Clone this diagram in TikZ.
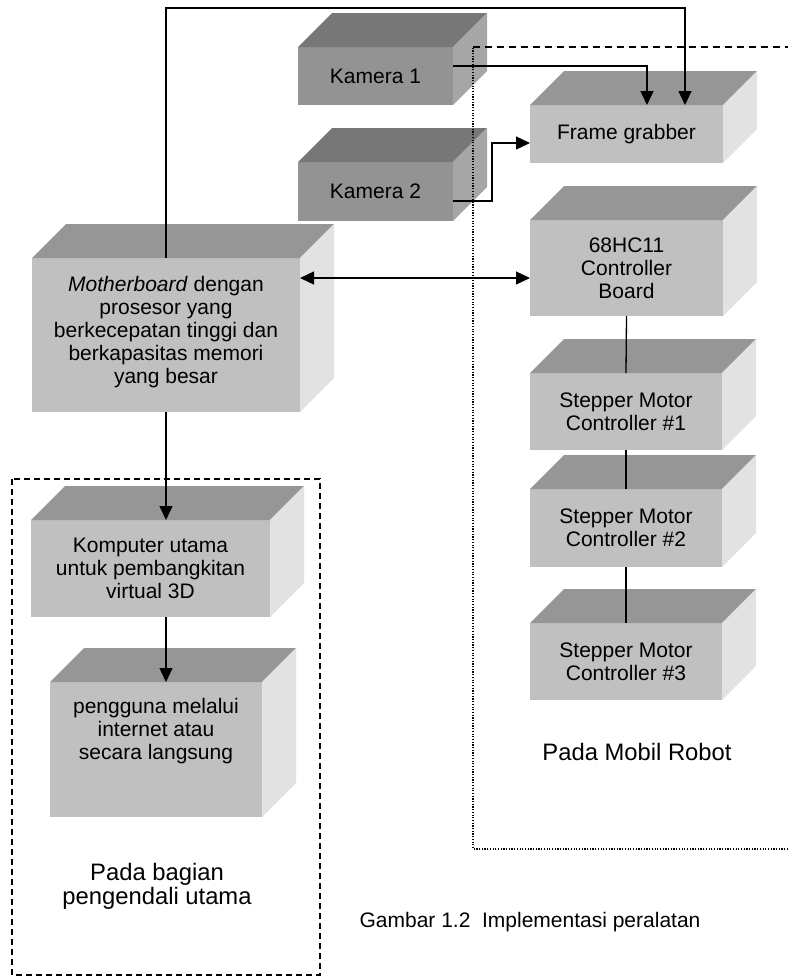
\documentclass[tikz,border=0pt]{standalone}
\usepackage{fontspec}
\setmainfont{Liberation Sans}
\usetikzlibrary{arrows.meta, positioning}
\definecolor{facegray}{HTML}{C0C0C0}
\definecolor{topgray}{HTML}{969696}
\definecolor{sidegray}{HTML}{E2E2E2}
\definecolor{camface}{HTML}{939393}
\definecolor{camtop}{HTML}{777777}
\definecolor{camside}{HTML}{A6A6A6}
\tikzset{
  block/.style={rectangle, fill=facegray, minimum width=193pt, outer sep=0pt, inner sep=2pt, align=center, font=\fontsize{21}{23}\selectfont},
  camblock/.style={block, fill=camface, minimum width=155pt},
  link/.style={line width=1.3pt, -{Triangle[length=14pt,width=13pt]}},
  biglabel/.style={align=center, font=\fontsize{23.8}{24}\selectfont},
}
\begin{document}
\begin{tikzpicture}[x=1pt, y=-1pt]
\useasboundingbox (0,0) rectangle (788,977);
% Kamera dan frame grabber
\node[camblock, minimum height=58pt] (kam1) at (375.5,76) {Kamera 1};
\node[camblock, minimum height=59pt] (kam2) at (375.5,191.5) {Kamera 2};
\node[block, minimum height=58pt] (fg) at (626.5,134) {Frame grabber};
\node[block, minimum height=96pt] (hc) at (626.5,268) {68HC11\\Controller\\Board};
\node[block, minimum width=192pt, minimum height=77pt] (sm1) at (626,411.5) {Stepper Motor\\Controller \#1};
\node[block, minimum width=192pt, minimum height=78pt] (sm2) at (626,528) {Stepper Motor\\Controller \#2};
\node[block, minimum width=192pt, minimum height=77pt] (sm3) at (626,661.5) {Stepper Motor\\Controller \#3};
% bagian pengendali utama
\node[block, minimum width=268pt, minimum height=154pt] (mb) at (166,335) {\textit{Motherboard} dengan\\prosesor yang\\berkecepatan tinggi dan\\berkapasitas memori\\yang besar\\[-12pt]~};
\node[block, minimum width=239pt, minimum height=97pt] (kom) at (150.5,568.5) {Komputer utama\\untuk pembangkitan\\virtual 3D};
\node[block, minimum width=212pt, minimum height=135pt] (user) at (156,749.5) {pengguna melalui\\internet atau\\secara langsung\\[18pt]~};

% sisi atas dan samping tiap kotak
\foreach \b/\t/\s in {kam1/camtop/camside, kam2/camtop/camside, fg/topgray/sidegray, hc/topgray/sidegray, sm1/topgray/sidegray, sm2/topgray/sidegray, sm3/topgray/sidegray, mb/topgray/sidegray, kom/topgray/sidegray, user/topgray/sidegray} {
  \fill[\t] (\b.north west) -- ([shift={(34,-34)}]\b.north west) -- ([shift={(34,-34)}]\b.north east) -- (\b.north east) -- cycle;
  \fill[\s] (\b.north east) -- ([shift={(34,-34)}]\b.north east) -- ([shift={(34,-34)}]\b.south east) -- (\b.south east) -- cycle;
}

% batas daerah
\draw[line width=1.2pt, dash pattern=on 1.2pt off 1.5pt] (788,849) -- (473,849) -- (473,47);
\draw[line width=1.2pt, dash pattern=on 7pt off 5pt] (473,47) -- (788,47);
\draw[line width=1.2pt, dash pattern=on 6pt off 4pt] (12,479) rectangle (320,975);

% sambungan
\coordinate (topline) at (0,8);
\draw[link] (mb.north) |- ([xshift=58.5pt]fg.north |- topline) -- ([xshift=58.5pt]fg.north);
\draw[link] ([yshift=10pt]kam1.east) -| ([xshift=20.5pt]fg.north);
\draw[link] ([yshift=-9.5pt]kam2.east) -- ++(39,0) |- ([yshift=-9pt]fg.west);
\draw[link, {Triangle[length=14pt,width=13pt]}-{Triangle[length=14pt,width=13pt]}] ([yshift=57pt]mb.east) -- ([yshift=57pt]mb.east -| hc.west);
\draw[link] (mb.south) -- (mb.south |- kom.north);
\draw[link] (kom.south -| mb.south) -- (mb.south |- user.north);
\draw[line width=1.3pt] (hc.south) -- (sm1.north);
\draw[line width=1.3pt] (sm1.south) -- (sm2.north);
\draw[line width=1.3pt] (sm2.south) -- (sm3.north);

% keterangan
\node[biglabel] (robotlbl) at (637,752) {Pada Mobil Robot};
\node[biglabel] (ctrllbl) at (157,886) {Pada bagian\\pengendali utama};
\node[font=\fontsize{21}{23}\selectfont] (caption) at (530,922) {Gambar 1.2\ \ Implementasi peralatan};
\end{tikzpicture}
\end{document}
